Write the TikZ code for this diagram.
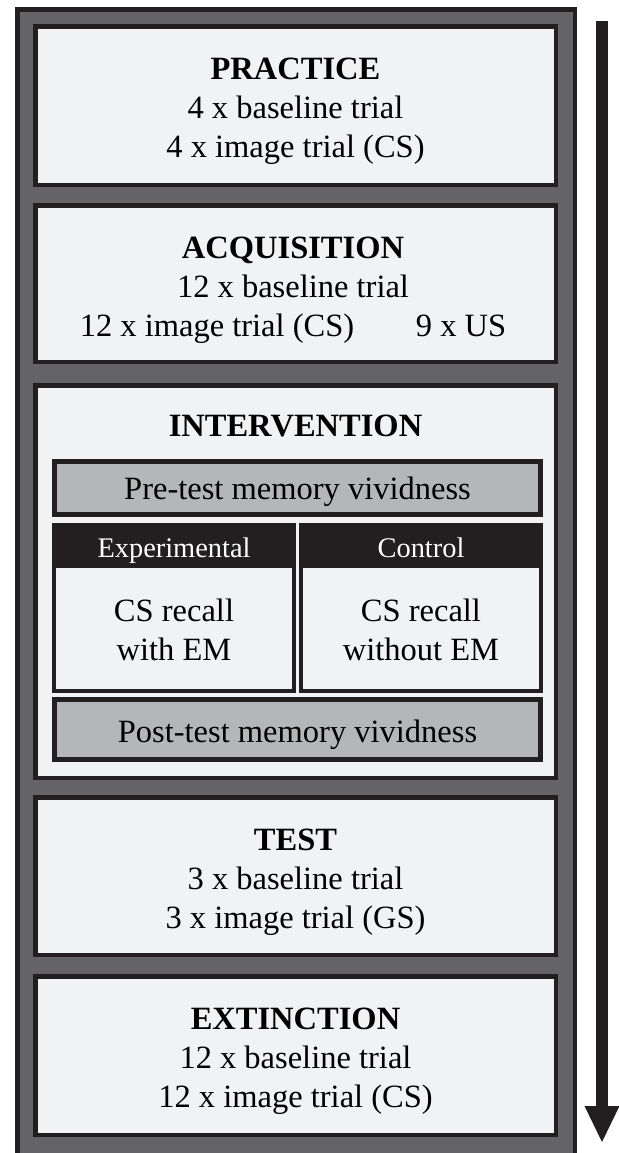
\documentclass[tikz,border=0pt]{standalone}
\usepackage{fontspec}
\setmainfont{Liberation Serif}
\usetikzlibrary{arrows.meta}
\definecolor{ink}{RGB}{35,31,32}
\definecolor{framegray}{RGB}{100,100,102}
\definecolor{paper}{RGB}{241,242,244}
\definecolor{midgray}{RGB}{181,182,185}

\tikzset{
  phasebox/.style={draw=ink, line width=2.25pt, fill=paper},
  vividbox/.style={draw=ink, line width=2.5pt, fill=midgray},
  groupbox/.style={draw=ink, line width=2pt, fill=paper},
  txt/.style={anchor=base, align=center, inner sep=0pt, font=\fontsize{16.25}{19.5}\selectfont},
  headtxt/.style={anchor=base, inner sep=0pt, text=white, font=\fontsize{14.2}{17}\selectfont},
}

\begin{document}
\begin{tikzpicture}[x=0.5pt, y=-0.5pt]
	\useasboundingbox (0,0) rectangle (619,1153);
	\clip (0,0) rectangle (619,1153);
	% outer frame
	\draw[draw=ink, line width=2.25pt, fill=framegray] (17.25,9.25) rectangle (574.75,1175);
	% phases (text nodes sit on the baseline of their last line)
	\foreach \t/\b in {26.25/184.75, 205.25/361.75, 385.25/777.75, 797.25/954.75, 976.25/1134.75} {
		\draw[phasebox] (35.25,\t) rectangle (555.75,\b);
	}
	\node[txt] (practice) at (295.5,157) {\textbf{PRACTICE}\\4 x baseline trial\\4 x image trial (CS)};
	\node[txt] (acquisition) at (293,336) {\textbf{ACQUISITION}\\12 x baseline trial\\12 x image trial (CS)\hspace{1.9em}9 x US};
	\node[txt] (intervention) at (295.5,436) {\textbf{INTERVENTION}};
	\node[txt] (test) at (295.5,928) {\textbf{TEST}\\3 x baseline trial\\3 x image trial (GS)};
	\node[txt] (extinction) at (295.5,1107) {\textbf{EXTINCTION}\\12 x baseline trial\\12 x image trial (CS)};
	% intervention parts
	\draw[vividbox] (54.5,461.5) rectangle (540.5,514.5);
	\node[txt] (pretest) at (297.5,499) {Pre-test memory vividness};
	\draw[groupbox] (54,525) rectangle (294,691);
	\fill[ink] (52,523) rectangle (296,568);
	\draw[groupbox] (301,525) rectangle (541,691);
	\fill[ink] (299,523) rectangle (543,568);
	\node[headtxt] (experimental) at (174,557) {Experimental};
	\node[headtxt] (control) at (421,557) {Control};
	\node[txt] (withem) at (174,660) {CS recall\\with EM};
	\node[txt] (withoutem) at (421,660) {CS recall\\without EM};
	\draw[vividbox] (54.5,699.5) rectangle (540.5,759.5);
	\node[txt] (posttest) at (297.5,742) {Post-test memory vividness};
	% time arrow
	\coordinate (arrtop) at (602,21);
	\coordinate (arrtip) at (602,1142);
	\draw[ink, line width=5.75pt, -{Triangle[length=18pt, width=17.5pt, line width=0pt]}] (arrtop) -- (arrtip);
\end{tikzpicture}
\end{document}
